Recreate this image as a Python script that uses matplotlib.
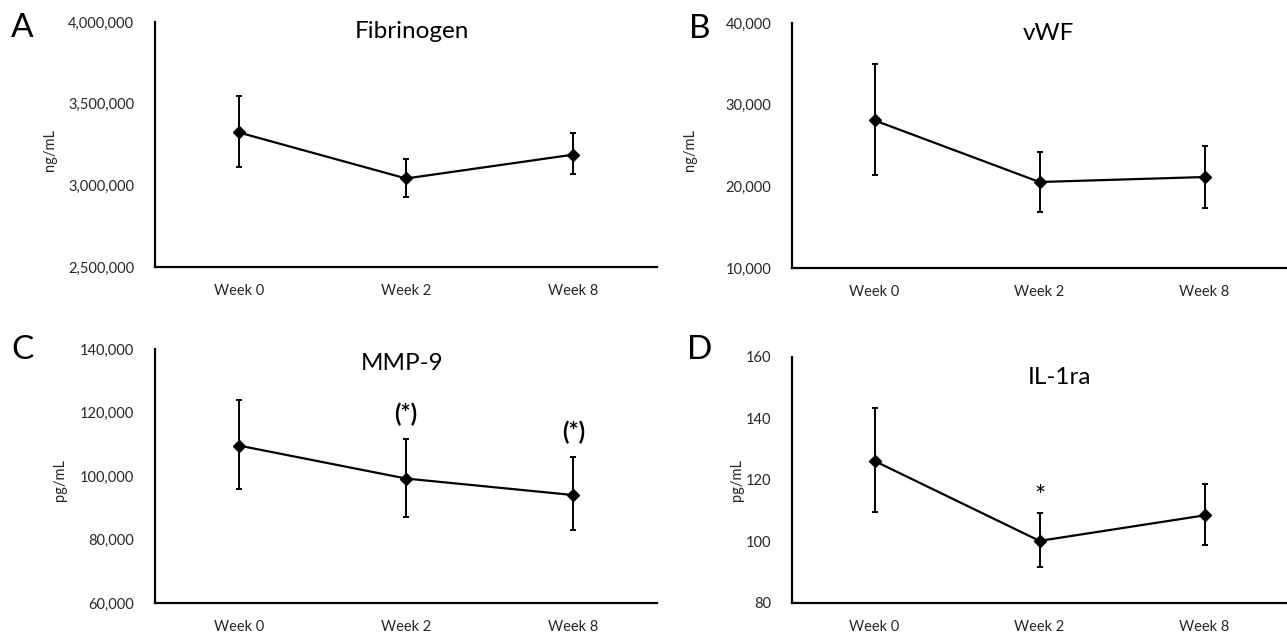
import matplotlib.pyplot as plt
from matplotlib.ticker import FuncFormatter

plt.rcParams['font.family'] = ['Lato', 'DejaVu Sans']

weeks = ['Week 0', 'Week 2', 'Week 8']

fib_mean = [3324000, 3042000, 3188000]
fib_hi = [3545000, 3160000, 3322000]
fib_lo = [3113000, 2931000, 3067000]

vwf_mean = [28080, 20530, 21140]
vwf_hi = [35000, 24200, 25000]
vwf_lo = [21350, 16900, 17400]

mmp_mean = [109600, 99200, 94000]
mmp_hi = [124000, 111800, 106000]
mmp_lo = [95800, 87000, 82900]

il_mean = [126.2, 100.2, 108.5]
il_hi = [143.5, 109.2, 118.7]
il_lo = [109.5, 91.7, 98.8]

W, H = 1287, 633
fig = plt.figure(figsize=(W / 100, H / 100), dpi=100)

panels = [
    # letter, title, unit, mean, hi, lo, ylim, step, axes rect (px), title pos (px)
    ('A', 'Fibrinogen', 'ng/mL', fib_mean, fib_hi, fib_lo, (2500000, 4000000), 500000,
     (155, 22, 502, 245), (412, 31)),
    ('B', 'vWF', 'ng/mL', vwf_mean, vwf_hi, vwf_lo, (10000, 40000), 10000,
     (792, 23, 495, 245), (1048, 34)),
    ('C', 'MMP-9', 'pg/mL', mmp_mean, mmp_hi, mmp_lo, (60000, 140000), 20000,
     (155, 349, 502, 254), (402, 363)),
    ('D', 'IL-1ra', 'pg/mL', il_mean, il_hi, il_lo, (80, 160), 20,
     (792, 357, 495, 246), (1060, 377)),
]

axes = {}
for letter, title, unit, mean, hi, lo, ylim, step, r, tp in panels:
    ax = fig.add_axes([r[0] / W, 1 - (r[1] + r[3]) / H, r[2] / W, r[3] / H])
    x = range(len(weeks))
    yerr = [[m - l for m, l in zip(mean, lo)], [h - m for m, h in zip(mean, hi)]]
    ax.errorbar(x, mean, yerr=yerr, color='black', lw=1.6, marker='D', markersize=6,
                elinewidth=1.4, capsize=2.5, capthick=1.4)
    ax.set_xlim(-0.5, 2.5)
    ax.set_ylim(*ylim)
    ax.set_yticks(list(range(ylim[0], ylim[1] + 1, step)))
    ax.yaxis.set_major_formatter(FuncFormatter(lambda v, p: f'{int(v):,}'))
    ax.set_xticks(list(x))
    ax.set_xticklabels(weeks)
    ax.tick_params(length=0, labelsize=10.5, labelcolor='#262626')
    ax.tick_params(axis='y', pad=15)
    ax.tick_params(axis='x', pad=12)
    for s in ['top', 'right']:
        ax.spines[s].set_visible(False)
    for s in ['left', 'bottom']:
        ax.spines[s].set_linewidth(1.6)
    for line in ax.get_lines():
        line.set_clip_on(False)
    fig.text(tp[0] / W, 1 - tp[1] / H, title, ha='center', va='center', fontsize=17.5)
    axes[letter] = ax

fig.text(22/W, 1-28/H, 'A', fontsize=24, ha='center', va='center')
fig.text(700/W, 1-29/H, 'B', fontsize=24, ha='center', va='center')
fig.text(22/W, 1-350/H, 'C', fontsize=24, ha='center', va='center')
fig.text(700/W, 1-350/H, 'D', fontsize=24, ha='center', va='center')

fig.text(50/W, 1-150/H, 'ng/mL', rotation=90, fontsize=10.5, ha='center', va='center', color='#262626')
fig.text(690/W, 1-150/H, 'ng/mL', rotation=90, fontsize=10.5, ha='center', va='center', color='#262626')
fig.text(60/W, 1-480/H, 'pg/mL', rotation=90, fontsize=10.5, ha='center', va='center', color='#262626')
fig.text(737/W, 1-480/H, 'pg/mL', rotation=90, fontsize=10.5, ha='center', va='center', color='#262626')

# significance marks
axes['C'].annotate('(*)', (1, mmp_hi[1]), xytext=(0, 9), textcoords='offset points',
                   ha='center', va='bottom', fontsize=17, fontweight='bold')
axes['C'].annotate('(*)', (2, mmp_hi[2]), xytext=(0, 9), textcoords='offset points',
                   ha='center', va='bottom', fontsize=17, fontweight='bold')
axes['D'].annotate('*', (1, il_hi[1]), xytext=(0, 2), textcoords='offset points',
                   ha='center', va='bottom', fontsize=19)

fig.savefig('out.png', dpi=100)
